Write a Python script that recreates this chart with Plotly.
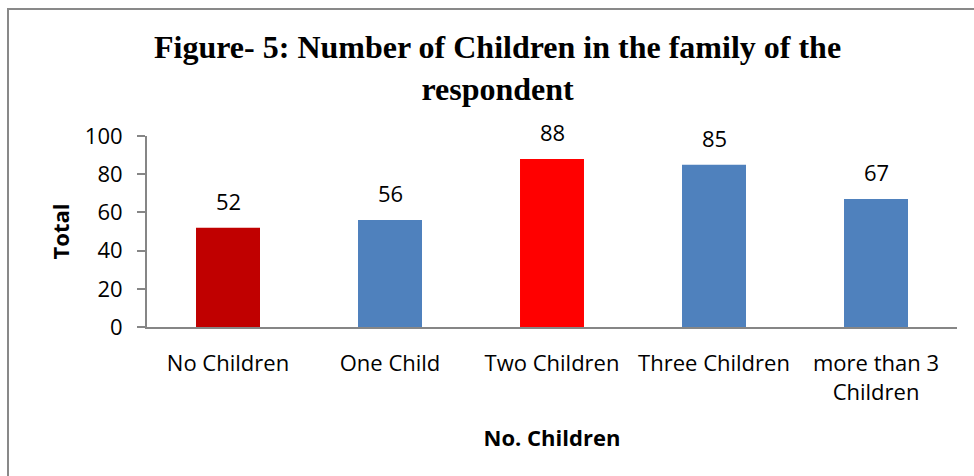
import plotly.graph_objects as go

# Survey results: number of children in the respondent's family
categories = ["No Children", "One Child", "Two Children", "Three Children", "more than 3<br>Children"]
totals = [52, 56, 88, 85, 67]
bar_colors = ["#C00000", "#4F81BD", "#FF0000", "#4F81BD", "#4F81BD"]
y_ticks = [0, 20, 40, 60, 80, 100]

W, H = 974, 476
L, R, T, B = 147, 17, 136, 149
plot_w = W - L - R
plot_h = H - T - B

def px_x(x):
    return (x - L) / plot_w

def px_y(y):
    return (H - B - y) / plot_h

body_font = "Open Sans, Lato, sans-serif"
body_size = 22
axis_grey = "#868686"

fig = go.Figure(
    go.Bar(
        x=categories,
        y=totals,
        marker=dict(color=bar_colors, line=dict(width=0)),
        width=0.395,
        hoverinfo="x+y",
    )
)

# value labels above each bar
for cat, val in zip(categories, totals):
    fig.add_annotation(
        x=cat, y=val, text=str(val), showarrow=False,
        yanchor="middle", yshift=27,
        font=dict(family=body_font, size=body_size, color="#000000"),
    )

# title block
fig.add_annotation(
    xref="paper", yref="paper", x=px_x(497), y=px_y(68),
    text="<b>Figure- 5: Number of Children in the family of the<br>respondent</b>",
    showarrow=False, xanchor="center", yanchor="middle",
    font=dict(family="Liberation Serif, Times New Roman, serif", size=32, color="#000000"),
)

# outer chart frame
fig.add_shape(
    type="rect", xref="paper", yref="paper",
    x0=px_x(8), x1=px_x(W + 20), y0=px_y(H + 20), y1=px_y(9),
    line=dict(color="#898989", width=2), fillcolor="rgba(0,0,0,0)", layer="below",
)

fig.update_layout(
    width=W, height=H,
    margin=dict(l=L, r=R, t=T, b=B),
    paper_bgcolor="white", plot_bgcolor="white",
    showlegend=False,
    xaxis=dict(
        type="category",
        showline=True, linecolor=axis_grey, linewidth=2,
        ticks="", showgrid=False,
        tickfont=dict(family=body_font, size=body_size, color="#000000"),
        ticklabelstandoff=16,
        title=dict(text="<b>No. Children</b>", standoff=26,
                   font=dict(family=body_font, size=body_size, color="#000000")),
    ),
    yaxis=dict(
        range=[0, 100], tickvals=y_ticks,
        showline=True, linecolor=axis_grey, linewidth=2,
        ticks="outside", ticklen=8, tickcolor=axis_grey, tickwidth=2,
        showgrid=False, zeroline=False,
        tickfont=dict(family=body_font, size=body_size, color="#000000"),
        ticklabelstandoff=10,
        title=dict(text="<b>Total</b>", standoff=9,
                   font=dict(family=body_font, size=body_size, color="#000000")),
    ),
)

fig.write_html("out.html")
